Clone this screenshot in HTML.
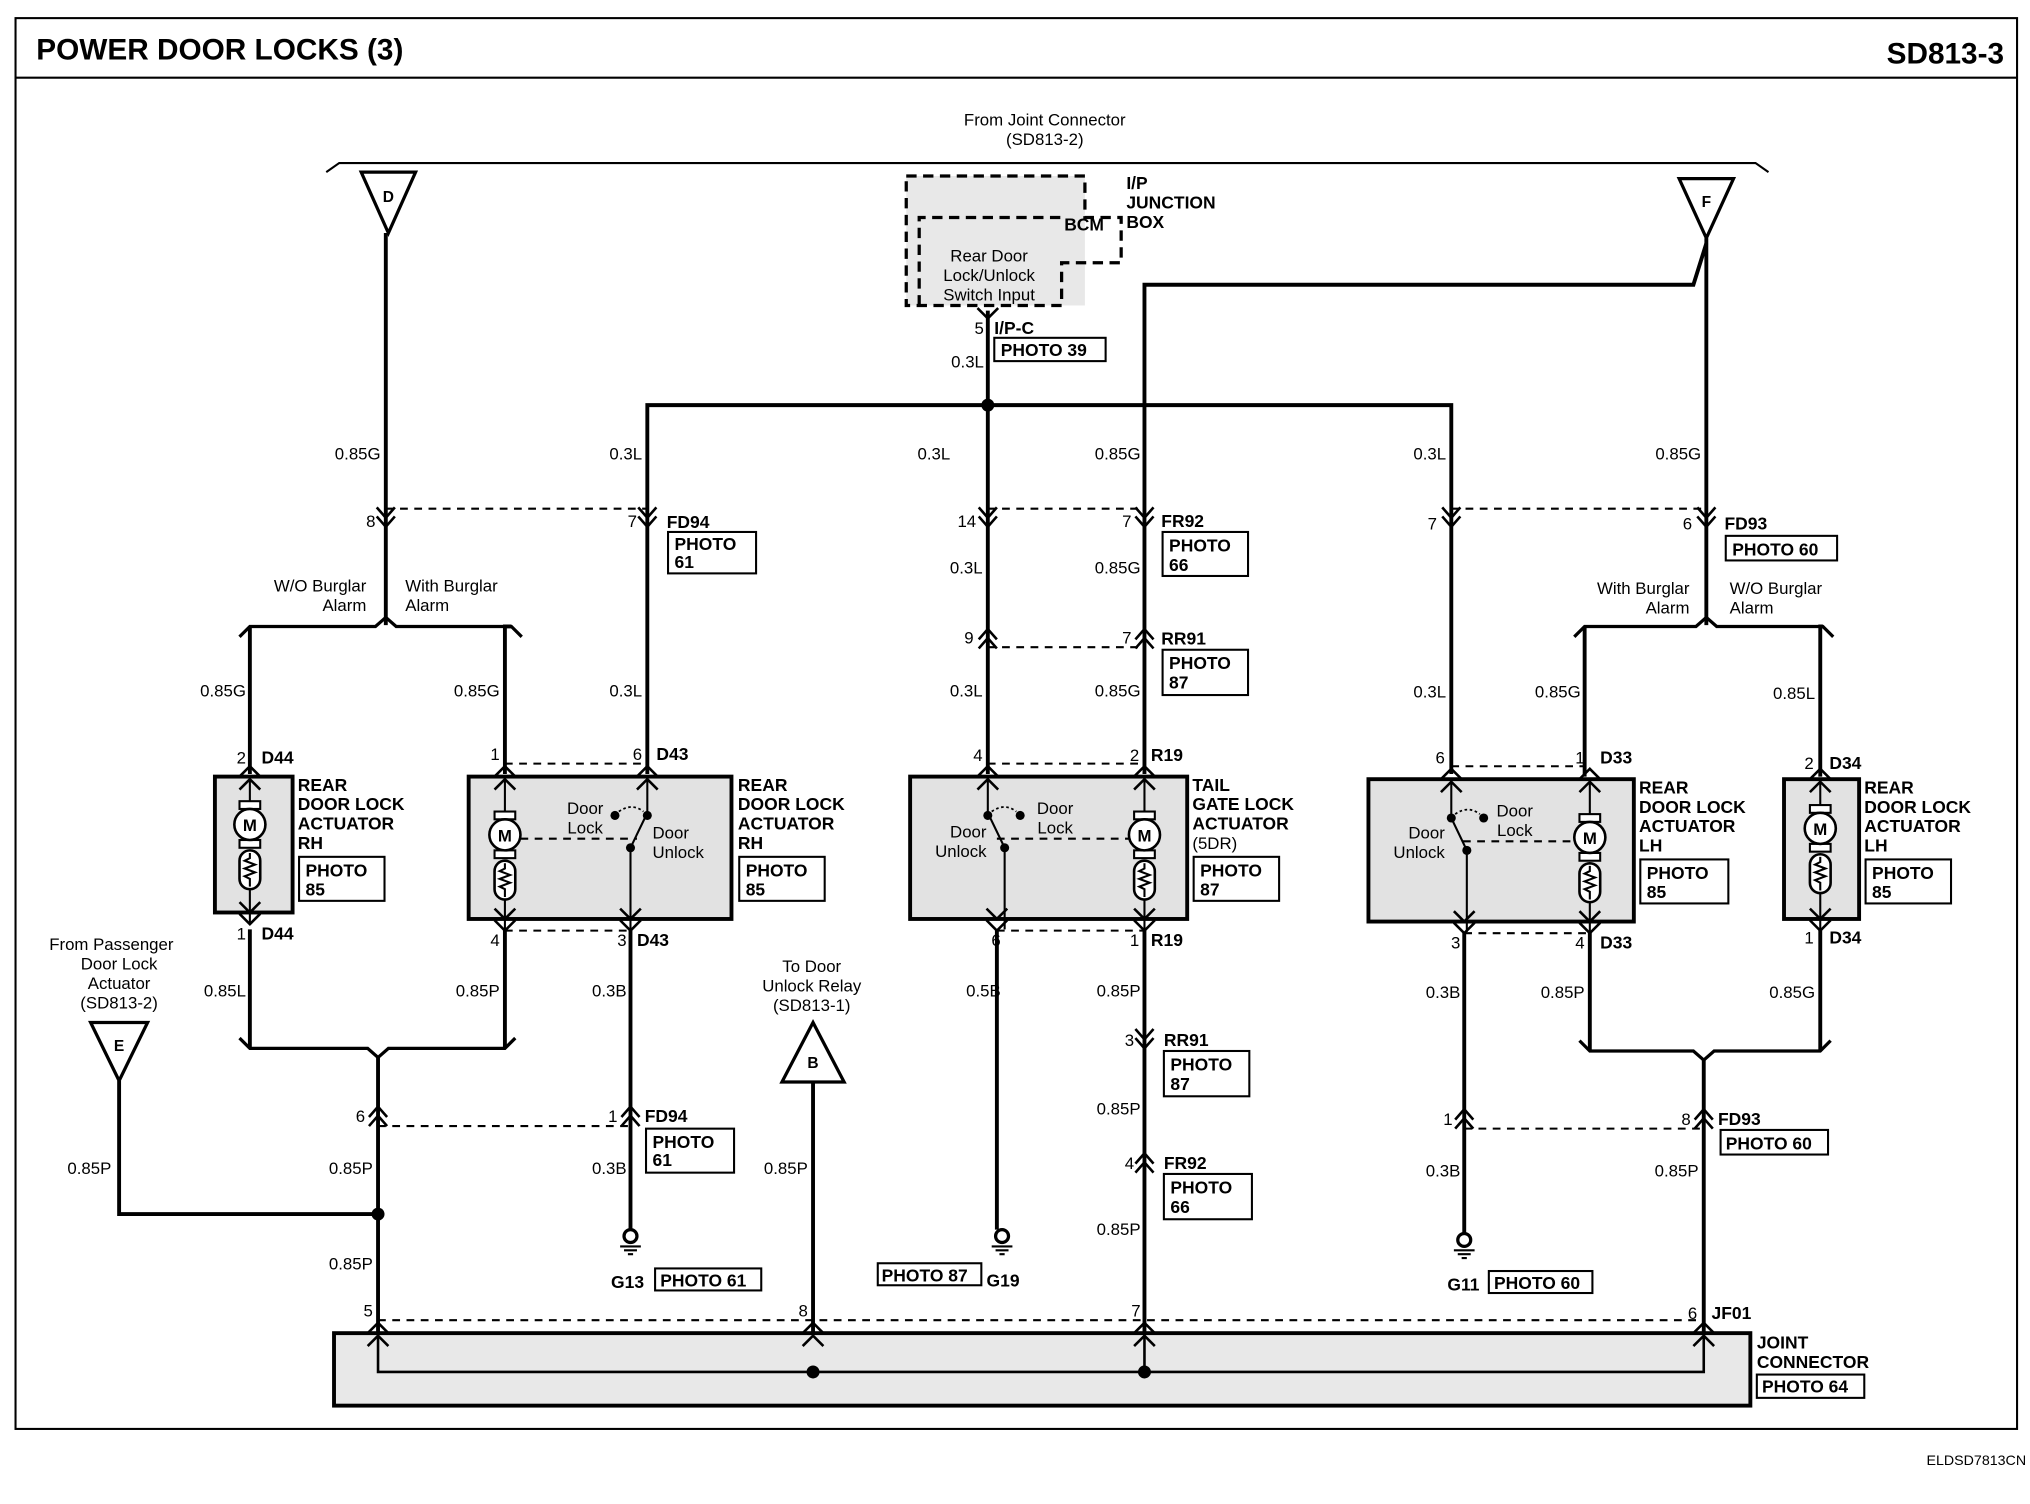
<!DOCTYPE html>
<html><head><meta charset="utf-8"><style>
html,body{margin:0;padding:0;background:#fff;}
svg{display:block;}
text{font-family:"Liberation Sans",Arial,sans-serif;fill:#000;}
.t{font-size:13px;}
.b{font-size:13.5px;font-weight:bold;}
.w{stroke:#000;stroke-width:3;fill:none;}
.thin{stroke:#000;stroke-width:1.6;fill:none;}
.d{stroke:#000;stroke-width:1.6;fill:none;stroke-dasharray:6,5;}
.pb{fill:#fff;stroke:#000;stroke-width:1.6;}
.g{fill:#e2e2e2;stroke:#000;stroke-width:3;}
</style></head><body>
<svg width="2030" height="1504" viewBox="0 0 1568 1162" preserveAspectRatio="none" xmlns="http://www.w3.org/2000/svg">
<defs>
<symbol id="dn" overflow="visible"><path d="M-7,-8 L0,0 L7,-8 M-7,-1 L0,7 L7,-1" stroke="#000" stroke-width="2" fill="none"/></symbol>
<symbol id="up" overflow="visible"><path d="M-7,8 L0,0 L7,8 M-7,1 L0,-7 L7,1" stroke="#000" stroke-width="2" fill="none"/></symbol>
<symbol id="au" overflow="visible"><path d="M-8,8 L0,0 L8,8" stroke="#000" stroke-width="2" fill="none"/></symbol>
<symbol id="ad" overflow="visible"><path d="M-8,-8 L0,0 L8,-8" stroke="#000" stroke-width="2" fill="none"/></symbol>
<symbol id="mot" overflow="visible">
<rect x="-8" y="-18" width="16" height="6" fill="#fff" stroke="#000" stroke-width="1.6"/>
<rect x="-8" y="12" width="16" height="6" fill="#fff" stroke="#000" stroke-width="1.6"/>
<circle cx="0" cy="0" r="12" fill="#fff" stroke="#000" stroke-width="2"/>
<text x="0" y="5" text-anchor="middle" style="font-size:13px;font-weight:bold">M</text>
<rect x="-8" y="20" width="16" height="30" rx="8" fill="#fff" stroke="#000" stroke-width="2"/>
<path d="M0,22 L0,26 L-4,28 L4,31 L-4,34 L4,37 L-4,40 L0,42 L0,48" stroke="#000" stroke-width="1.6" fill="none"/>
</symbol>
<symbol id="gnd" overflow="visible">
<circle cx="0" cy="0" r="5" fill="#fff" stroke="#000" stroke-width="2.5"/>
<path d="M-8,8 L8,8 M-5,11 L5,11 M-2,14 L2,14" stroke="#000" stroke-width="1.6"/>
</symbol>
</defs>

<!-- frame -->
<rect x="12" y="14" width="1546" height="1090" fill="none" stroke="#000" stroke-width="1.6"/>
<line x1="12" y1="60" x2="1558" y2="60" stroke="#000" stroke-width="1.6"/>
<text x="28" y="46" style="font-size:23px;font-weight:bold">POWER DOOR LOCKS (3)</text>
<text x="1548" y="49" text-anchor="end" style="font-size:23px;font-weight:bold">SD813-3</text>
<text x="1565" y="1132" text-anchor="end" style="font-size:11px">ELDSD7813CN</text>

<!-- top header -->
<text x="807" y="97" text-anchor="middle" class="t">From Joint Connector</text>
<text x="807" y="112" text-anchor="middle" class="t">(SD813-2)</text>
<path d="M252,133 L262,126 L1356,126 L1366,133" class="thin"/>

<!-- junction box -->
<rect x="700" y="136" width="138" height="100" fill="#e8e8e8"/>
<path d="M700,136 L838,136 L838,168 L866,168 L866,203 L820,203 L820,236 L700,236 Z" fill="none" stroke="#000" stroke-width="2.5" stroke-dasharray="8,5"/>
<path d="M710,236 L710,168 L820,168" fill="none" stroke="#000" stroke-width="2.5" stroke-dasharray="8,5"/>
<text x="870" y="146" class="b">I/P</text>
<text x="870" y="161" class="b">JUNCTION</text>
<text x="870" y="176" class="b">BOX</text>
<text x="822" y="178" class="b">BCM</text>
<text x="764" y="202" text-anchor="middle" class="t">Rear Door</text>
<text x="764" y="217" text-anchor="middle" class="t">Lock/Unlock</text>
<text x="764" y="232" text-anchor="middle" class="t">Switch Input</text>
<use href="#ad" x="763" y="246"/>
<text x="760" y="258" text-anchor="end" class="t">5</text>
<text x="768" y="258" class="b">I/P-C</text>
<rect x="768" y="261" width="86" height="18" class="pb"/>
<text x="773" y="275" class="b">PHOTO 39</text>
<text x="760" y="284" text-anchor="end" class="t">0.3L</text>

<!-- triangles -->
<path d="M279,133 L321,133 L300,180 Z" fill="#fff" stroke="#000" stroke-width="2.5"/>
<text x="300" y="156" text-anchor="middle" style="font-size:12px;font-weight:bold">D</text>
<path d="M1297,138 L1339,138 L1318,184 Z" fill="#fff" stroke="#000" stroke-width="2.5"/>
<text x="1318" y="160" text-anchor="middle" style="font-size:12px;font-weight:bold">F</text>
<path d="M70,790 L114,790 L92,835 Z" fill="#fff" stroke="#000" stroke-width="2.5"/>
<text x="92" y="812" text-anchor="middle" style="font-size:12px;font-weight:bold">E</text>
<path d="M604,836 L652,836 L628,790 Z" fill="#fff" stroke="#000" stroke-width="2.5"/>
<text x="628" y="825" text-anchor="middle" style="font-size:12px;font-weight:bold">B</text>

<!-- main wires -->
<path d="M298,180 L298,483" class="w"/>
<path d="M763,240 L763,598" class="w"/>
<path d="M500,598 L500,313 L1121,313 L1121,598" class="w"/>
<circle cx="763" cy="313" r="5"/>
<path d="M1318,184 L1318,483" class="w"/>
<path d="M1318,188 L1308,220 L884,220 L884,598" class="w"/>

<!-- wire labels top -->
<text x="294" y="355" text-anchor="end" class="t">0.85G</text>
<text x="496" y="355" text-anchor="end" class="t">0.3L</text>
<text x="734" y="355" text-anchor="end" class="t">0.3L</text>
<text x="881" y="355" text-anchor="end" class="t">0.85G</text>
<text x="1117" y="355" text-anchor="end" class="t">0.3L</text>
<text x="1314" y="355" text-anchor="end" class="t">0.85G</text>

<!-- FD94/FD93/FR92 row -->
<path d="M298,393 L500,393" class="d"/>
<use href="#dn" x="298" y="400"/><use href="#dn" x="500" y="400"/>
<text x="290" y="407" text-anchor="end" class="t">8</text>
<text x="492" y="407" text-anchor="end" class="t">7</text>
<text x="515" y="408" class="b">FD94</text>
<rect x="516" y="411" width="68" height="32" class="pb"/>
<text x="521" y="425" class="b">PHOTO</text><text x="521" y="439" class="b">61</text>

<path d="M763,393 L884,393" class="d"/>
<use href="#dn" x="763" y="400"/><use href="#dn" x="884" y="400"/>
<text x="754" y="407" text-anchor="end" class="t">14</text>
<text x="874" y="407" text-anchor="end" class="t">7</text>
<text x="897" y="407" class="b">FR92</text>
<rect x="898" y="411" width="66" height="34" class="pb"/>
<text x="903" y="426" class="b">PHOTO</text><text x="903" y="441" class="b">66</text>

<path d="M1121,393 L1318,393" class="d"/>
<use href="#dn" x="1121" y="400"/><use href="#dn" x="1318" y="400"/>
<text x="1110" y="409" text-anchor="end" class="t">7</text>
<text x="1307" y="409" text-anchor="end" class="t">6</text>
<text x="1332" y="409" class="b">FD93</text>
<rect x="1333" y="414" width="86" height="19" class="pb"/>
<text x="1338" y="429" class="b">PHOTO 60</text>

<text x="759" y="443" text-anchor="end" class="t">0.3L</text>
<text x="881" y="443" text-anchor="end" class="t">0.85G</text>

<!-- RR91 row -->
<path d="M763,500 L884,500" class="d"/>
<use href="#up" x="763" y="493"/><use href="#up" x="884" y="493"/>
<text x="752" y="497" text-anchor="end" class="t">9</text>
<text x="874" y="497" text-anchor="end" class="t">7</text>
<text x="897" y="498" class="b">RR91</text>
<rect x="898" y="502" width="66" height="35" class="pb"/>
<text x="903" y="517" class="b">PHOTO</text><text x="903" y="532" class="b">87</text>
<text x="759" y="538" text-anchor="end" class="t">0.3L</text>
<text x="881" y="538" text-anchor="end" class="t">0.85G</text>

<!-- burglar alarm brackets -->
<text x="283" y="457" text-anchor="end" class="t">W/O Burglar</text>
<text x="283" y="472" text-anchor="end" class="t">Alarm</text>
<text x="313" y="457" class="t">With Burglar</text>
<text x="313" y="472" class="t">Alarm</text>
<path d="M185,492 L193,484 L290,484 L298,477 L306,484 L395,484 L403,492" class="w" style="stroke-width:2.5"/>
<path d="M193,484 L193,598 M395,484 L390,484 L390,598" class="w"/>
<text x="1305" y="459" text-anchor="end" class="t">With Burglar</text>
<text x="1305" y="474" text-anchor="end" class="t">Alarm</text>
<text x="1336" y="459" class="t">W/O Burglar</text>
<text x="1336" y="474" class="t">Alarm</text>
<path d="M1216,492 L1224,484 L1310,484 L1318,477 L1326,484 L1408,484 L1416,492" class="w" style="stroke-width:2.5"/>
<path d="M1224,484 L1224,600 M1408,484 L1406,484 L1406,600" class="w"/>

<text x="190" y="538" text-anchor="end" class="t">0.85G</text>
<text x="386" y="538" text-anchor="end" class="t">0.85G</text>
<text x="496" y="538" text-anchor="end" class="t">0.3L</text>
<text x="1117" y="539" text-anchor="end" class="t">0.3L</text>
<text x="1221" y="539" text-anchor="end" class="t">0.85G</text>
<text x="1402" y="540" text-anchor="end" class="t">0.85L</text>

<!-- Actuator 1: small RH -->
<rect x="166" y="600" width="60" height="105" class="g"/>
<use href="#au" x="193" y="592"/><use href="#au" x="193" y="602"/>
<path d="M193,600 L193,620" class="thin"/>
<use href="#mot" x="193" y="637"/>
<path d="M193,687 L193,713" class="thin"/>
<use href="#ad" x="193" y="705"/><use href="#ad" x="193" y="714"/>
<text x="190" y="590" text-anchor="end" class="t">2</text><text x="202" y="590" class="b">D44</text>
<text x="190" y="726" text-anchor="end" class="t">1</text><text x="202" y="726" class="b">D44</text>
<text x="230" y="611" class="b">REAR</text>
<text x="230" y="626" class="b">DOOR LOCK</text>
<text x="230" y="641" class="b">ACTUATOR</text>
<text x="230" y="656" class="b">RH</text>
<rect x="231" y="662" width="66" height="34" class="pb"/>
<text x="236" y="677" class="b">PHOTO</text><text x="236" y="692" class="b">85</text>

<!-- Actuator 2: RH -->
<rect x="362" y="600" width="203" height="110" class="g"/>
<path d="M390,590 L500,590" class="d"/>
<use href="#au" x="390" y="592"/><use href="#au" x="390" y="602"/>
<use href="#au" x="500" y="592"/><use href="#au" x="500" y="602"/>
<path d="M390,600 L390,628" class="thin"/>
<use href="#mot" x="390" y="645"/>
<path d="M390,695 L390,718 M500,600 L500,628 L487,655 L487,718" class="thin"/>
<circle cx="500" cy="630" r="3.5"/><circle cx="487" cy="655" r="3.5"/><circle cx="475" cy="630" r="3.5"/>
<path d="M478,627 Q488,620 497,627" stroke="#000" stroke-width="1.4" fill="none" stroke-dasharray="2,2"/>
<path d="M402,648 L492,648" class="d"/>
<use href="#ad" x="390" y="710"/><use href="#ad" x="390" y="719"/>
<use href="#ad" x="487" y="710"/><use href="#ad" x="487" y="719"/>
<path d="M390,719 L487,719" class="d"/>
<text x="452" y="629" text-anchor="middle" class="t">Door</text>
<text x="452" y="644" text-anchor="middle" class="t">Lock</text>
<text x="504" y="648" class="t">Door</text>
<text x="504" y="663" class="t">Unlock</text>
<text x="386" y="587" text-anchor="end" class="t">1</text>
<text x="496" y="587" text-anchor="end" class="t">6</text><text x="507" y="587" class="b">D43</text>
<text x="386" y="731" text-anchor="end" class="t">4</text>
<text x="484" y="731" text-anchor="end" class="t">3</text><text x="492" y="731" class="b">D43</text>
<text x="570" y="611" class="b">REAR</text>
<text x="570" y="626" class="b">DOOR LOCK</text>
<text x="570" y="641" class="b">ACTUATOR</text>
<text x="570" y="656" class="b">RH</text>
<rect x="571" y="662" width="66" height="34" class="pb"/>
<text x="576" y="677" class="b">PHOTO</text><text x="576" y="692" class="b">85</text>

<!-- Tail gate -->
<rect x="703" y="600" width="214" height="110" class="g"/>
<path d="M763,590 L884,590" class="d"/>
<use href="#au" x="763" y="592"/><use href="#au" x="763" y="602"/>
<use href="#au" x="884" y="592"/><use href="#au" x="884" y="602"/>
<path d="M763,600 L763,628 L776,655 L776,718 M884,600 L884,628 M884,695 L884,718" class="thin"/>
<circle cx="763" cy="630" r="3.5"/><circle cx="776" cy="655" r="3.5"/><circle cx="788" cy="630" r="3.5"/>
<path d="M766,627 Q776,620 785,627" stroke="#000" stroke-width="1.4" fill="none" stroke-dasharray="2,2"/>
<path d="M770,648 L872,648" class="d"/>
<use href="#mot" x="884" y="645"/>
<use href="#ad" x="770" y="710"/><use href="#ad" x="770" y="719"/>
<use href="#ad" x="884" y="710"/><use href="#ad" x="884" y="719"/>
<path d="M770,719 L884,719" class="d"/>
<text x="815" y="629" text-anchor="middle" class="t">Door</text>
<text x="815" y="644" text-anchor="middle" class="t">Lock</text>
<text x="762" y="647" text-anchor="end" class="t">Door</text>
<text x="762" y="662" text-anchor="end" class="t">Unlock</text>
<text x="759" y="588" text-anchor="end" class="t">4</text>
<text x="880" y="588" text-anchor="end" class="t">2</text><text x="889" y="588" class="b">R19</text>
<text x="773" y="731" text-anchor="end" class="t">6</text>
<text x="880" y="731" text-anchor="end" class="t">1</text><text x="889" y="731" class="b">R19</text>
<text x="921" y="611" class="b">TAIL</text>
<text x="921" y="626" class="b">GATE LOCK</text>
<text x="921" y="641" class="b">ACTUATOR</text>
<text x="921" y="656" class="t">(5DR)</text>
<rect x="922" y="662" width="66" height="34" class="pb"/>
<text x="927" y="677" class="b">PHOTO</text><text x="927" y="692" class="b">87</text>

<!-- LH actuator -->
<rect x="1057" y="602" width="205" height="110" class="g"/>
<path d="M1121,592 L1224,592" class="d"/>
<use href="#au" x="1121" y="594"/><use href="#au" x="1121" y="604"/>
<use href="#au" x="1228" y="594"/><use href="#au" x="1228" y="604"/>
<path d="M1121,602 L1121,632 L1133,657 L1133,720 M1228,602 L1228,630 M1228,697 L1228,720" class="thin"/>
<circle cx="1121" cy="632" r="3.5"/><circle cx="1133" cy="657" r="3.5"/><circle cx="1146" cy="632" r="3.5"/>
<path d="M1124,629 Q1134,622 1143,629" stroke="#000" stroke-width="1.4" fill="none" stroke-dasharray="2,2"/>
<path d="M1130,650 L1216,650" class="d"/>
<use href="#mot" x="1228" y="647"/>
<use href="#ad" x="1131" y="712"/><use href="#ad" x="1131" y="721"/>
<use href="#ad" x="1228" y="712"/><use href="#ad" x="1228" y="721"/>
<path d="M1131,721 L1228,721" class="d"/>
<text x="1170" y="631" text-anchor="middle" class="t">Door</text>
<text x="1170" y="646" text-anchor="middle" class="t">Lock</text>
<text x="1116" y="648" text-anchor="end" class="t">Door</text>
<text x="1116" y="663" text-anchor="end" class="t">Unlock</text>
<text x="1116" y="590" text-anchor="end" class="t">6</text>
<text x="1224" y="590" text-anchor="end" class="t">1</text><text x="1236" y="590" class="b">D33</text>
<text x="1128" y="733" text-anchor="end" class="t">3</text>
<text x="1224" y="733" text-anchor="end" class="t">4</text><text x="1236" y="733" class="b">D33</text>
<text x="1266" y="613" class="b">REAR</text>
<text x="1266" y="628" class="b">DOOR LOCK</text>
<text x="1266" y="643" class="b">ACTUATOR</text>
<text x="1266" y="658" class="b">LH</text>
<rect x="1267" y="664" width="68" height="34" class="pb"/>
<text x="1272" y="679" class="b">PHOTO</text><text x="1272" y="694" class="b">85</text>

<!-- small LH -->
<rect x="1378" y="602" width="58" height="108" class="g"/>
<use href="#au" x="1406" y="594"/><use href="#au" x="1406" y="604"/>
<path d="M1406,602 L1406,625 M1406,690 L1406,718" class="thin"/>
<use href="#mot" x="1406" y="640"/>
<use href="#ad" x="1406" y="710"/><use href="#ad" x="1406" y="719"/>
<text x="1401" y="594" text-anchor="end" class="t">2</text><text x="1413" y="594" class="b">D34</text>
<text x="1401" y="729" text-anchor="end" class="t">1</text><text x="1413" y="729" class="b">D34</text>
<text x="1440" y="613" class="b">REAR</text>
<text x="1440" y="628" class="b">DOOR LOCK</text>
<text x="1440" y="643" class="b">ACTUATOR</text>
<text x="1440" y="658" class="b">LH</text>
<rect x="1441" y="664" width="66" height="34" class="pb"/>
<text x="1446" y="679" class="b">PHOTO</text><text x="1446" y="694" class="b">85</text>

<!-- lower wires -->
<path d="M193,718 L193,810 M390,718 L390,810" class="w"/>
<path d="M185,802 L193,810 L284,810 L292,817 L300,810 L390,810 L398,802" class="w" style="stroke-width:2.5"/>
<path d="M292,817 L292,1030" class="w"/>
<path d="M92,835 L92,938 L292,938" class="w"/>
<circle cx="292" cy="938" r="5"/>
<path d="M487,718 L487,950" class="w"/>
<path d="M770,718 L770,950" class="w"/>
<path d="M884,718 L884,1030" class="w"/>
<path d="M628,836 L628,1060" class="w"/>
<path d="M1131,720 L1131,955" class="w"/>
<path d="M1228,720 L1228,812 M1406,718 L1406,812" class="w"/>
<path d="M1220,804 L1228,812 L1308,812 L1316,819 L1324,812 L1406,812 L1414,804" class="w" style="stroke-width:2.5"/>
<path d="M1316,819 L1316,1030" class="w"/>

<text x="38" y="734" class="t">From Passenger</text>
<text x="92" y="749" text-anchor="middle" class="t">Door Lock</text>
<text x="92" y="764" text-anchor="middle" class="t">Actuator</text>
<text x="92" y="779" text-anchor="middle" class="t">(SD813-2)</text>
<text x="627" y="751" text-anchor="middle" class="t">To Door</text>
<text x="627" y="766" text-anchor="middle" class="t">Unlock Relay</text>
<text x="627" y="781" text-anchor="middle" class="t">(SD813-1)</text>

<text x="190" y="770" text-anchor="end" class="t">0.85L</text>
<text x="386" y="770" text-anchor="end" class="t">0.85P</text>
<text x="484" y="770" text-anchor="end" class="t">0.3B</text>
<text x="773" y="770" text-anchor="end" class="t">0.5B</text>
<text x="881" y="770" text-anchor="end" class="t">0.85P</text>
<text x="1128" y="771" text-anchor="end" class="t">0.3B</text>
<text x="1224" y="771" text-anchor="end" class="t">0.85P</text>
<text x="1402" y="771" text-anchor="end" class="t">0.85G</text>

<!-- RR91 lower -->
<use href="#dn" x="884" y="803"/>
<text x="876" y="808" text-anchor="end" class="t">3</text>
<text x="899" y="808" class="b">RR91</text>
<rect x="899" y="812" width="66" height="35" class="pb"/>
<text x="904" y="827" class="b">PHOTO</text><text x="904" y="842" class="b">87</text>
<text x="881" y="861" text-anchor="end" class="t">0.85P</text>
<use href="#up" x="884" y="898"/>
<text x="876" y="903" text-anchor="end" class="t">4</text>
<text x="899" y="903" class="b">FR92</text>
<rect x="899" y="907" width="68" height="35" class="pb"/>
<text x="904" y="922" class="b">PHOTO</text><text x="904" y="937" class="b">66</text>
<text x="881" y="954" text-anchor="end" class="t">0.85P</text>

<!-- FD94 / FD93 lower -->
<path d="M292,870 L487,870" class="d"/>
<use href="#up" x="292" y="862"/><use href="#up" x="487" y="862"/>
<text x="282" y="867" text-anchor="end" class="t">6</text>
<text x="477" y="867" text-anchor="end" class="t">1</text>
<text x="498" y="867" class="b">FD94</text>
<rect x="499" y="872" width="68" height="34" class="pb"/>
<text x="504" y="887" class="b">PHOTO</text><text x="504" y="901" class="b">61</text>

<path d="M1131,872 L1316,872" class="d"/>
<use href="#up" x="1131" y="864"/><use href="#up" x="1316" y="864"/>
<text x="1122" y="869" text-anchor="end" class="t">1</text>
<text x="1306" y="869" text-anchor="end" class="t">8</text>
<text x="1327" y="869" class="b">FD93</text>
<rect x="1329" y="873" width="83" height="19" class="pb"/>
<text x="1333" y="888" class="b">PHOTO 60</text>

<text x="86" y="907" text-anchor="end" class="t">0.85P</text>
<text x="288" y="907" text-anchor="end" class="t">0.85P</text>
<text x="484" y="907" text-anchor="end" class="t">0.3B</text>
<text x="624" y="907" text-anchor="end" class="t">0.85P</text>
<text x="1128" y="909" text-anchor="end" class="t">0.3B</text>
<text x="1312" y="909" text-anchor="end" class="t">0.85P</text>
<text x="288" y="981" text-anchor="end" class="t">0.85P</text>

<!-- grounds -->
<use href="#gnd" x="487" y="955"/>
<text x="472" y="995" class="b">G13</text>
<rect x="506" y="980" width="82" height="17" class="pb"/><text x="510" y="994" class="b">PHOTO 61</text>
<use href="#gnd" x="774" y="955"/>
<rect x="678" y="976" width="80" height="17" class="pb"/><text x="681" y="990" class="b">PHOTO 87</text>
<text x="762" y="994" class="b">G19</text>
<use href="#gnd" x="1131" y="958"/>
<text x="1118" y="997" class="b">G11</text>
<rect x="1150" y="982" width="80" height="17" class="pb"/><text x="1154" y="996" class="b">PHOTO 60</text>

<!-- joint connector -->
<rect x="258" y="1030" width="1094" height="56" class="g" style="fill:#e8e8e8"/>
<path d="M292,1020 L1316,1020" class="d"/>
<use href="#au" x="292" y="1022"/><use href="#au" x="292" y="1032"/>
<use href="#au" x="628" y="1022"/><use href="#au" x="628" y="1032"/>
<use href="#au" x="884" y="1022"/><use href="#au" x="884" y="1032"/>
<use href="#au" x="1316" y="1022"/><use href="#au" x="1316" y="1032"/>
<path d="M292,1030 L292,1060 L1316,1060 L1316,1030 M884,1030 L884,1060" class="w" style="stroke-width:2"/>
<circle cx="628" cy="1060" r="5"/><circle cx="884" cy="1060" r="5"/>
<text x="288" y="1017" text-anchor="end" class="t">5</text>
<text x="624" y="1017" text-anchor="end" class="t">8</text>
<text x="881" y="1017" text-anchor="end" class="t">7</text>
<text x="1311" y="1019" text-anchor="end" class="t">6</text>
<text x="1322" y="1019" class="b">JF01</text>
<text x="1357" y="1042" class="b">JOINT</text>
<text x="1357" y="1057" class="b">CONNECTOR</text>
<rect x="1357" y="1062" width="83" height="18" class="pb"/><text x="1361" y="1076" class="b">PHOTO 64</text>
</svg>
</body></html>
